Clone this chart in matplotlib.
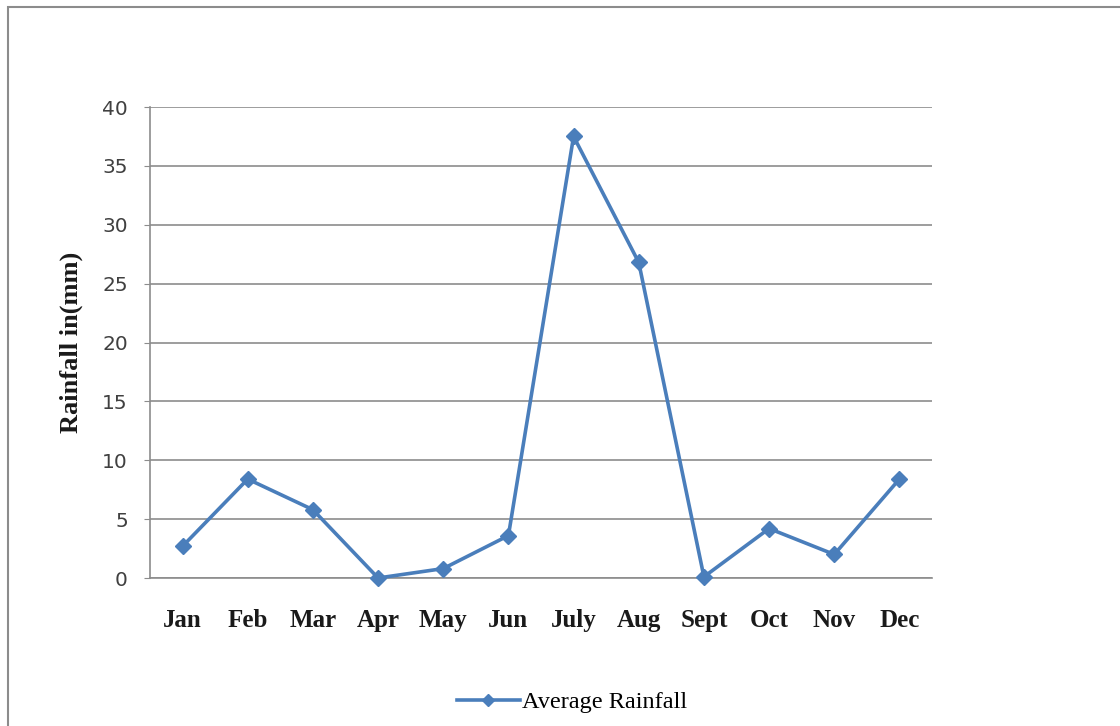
import matplotlib
matplotlib.use("Agg")
import matplotlib.pyplot as plt
from matplotlib.patches import Rectangle
from matplotlib.lines import Line2D

months = ["Jan", "Feb", "Mar", "Apr", "May", "Jun", "July", "Aug", "Sept", "Oct", "Nov", "Dec"]
rainfall = [2.7, 8.4, 5.8, 0.0, 0.8, 3.6, 37.5, 26.8, 0.1, 4.2, 2.0, 8.4]
yticks = [0, 5, 10, 15, 20, 25, 30, 35, 40]
series_name = "Average Rainfall"

W, H = 1120, 726
fig = plt.figure(figsize=(W / 100, H / 100), dpi=100)
fig.patch.set_facecolor("white")

# outer chart border
fig.add_artist(Rectangle((8 / W, -0.01), 1.2, 1 - 7 / H + 0.01, transform=fig.transFigure,
                         fill=False, edgecolor="#8c8c8c", linewidth=1.5))

left, right, top, bottom = 150, 932, 107, 578
ax = fig.add_axes([left / W, 1 - bottom / H, (right - left) / W, (bottom - top) / H])

color = "#4A7EBB"
x = list(range(len(months)))
ax.plot(x, rainfall, color=color, linewidth=2.6, marker="D", markersize=8,
        markerfacecolor=color, markeredgecolor=color, clip_on=False, zorder=3)

ax.set_xlim(-0.5, len(months) - 0.5)
ax.set_ylim(0, 40)
ax.set_yticks(yticks)
ax.set_yticklabels([str(v) for v in yticks], fontsize=14.5, family="DejaVu Sans", color="#404040")
ax.set_xticks(x)
ax.set_xticklabels(months, fontsize=18, family="Liberation Serif", fontweight="bold", color="#1a1a1a")
ax.tick_params(axis="x", length=0, pad=22)
ax.tick_params(axis="y", length=4, color="#8c8c8c", pad=12)

ax.grid(axis="y", color="#8c8c8c", linewidth=1.2)
ax.set_axisbelow(True)
for s in ["top", "right"]:
    ax.spines[s].set_visible(False)
for s in ["left", "bottom"]:
    ax.spines[s].set_color("#8c8c8c")
    ax.spines[s].set_linewidth(1.2)

ax.set_ylabel("Rainfall in(mm)", fontsize=19, family="Liberation Serif", fontweight="bold",
              color="#1a1a1a", labelpad=14)

handle = Line2D([0], [0], color=color, linewidth=2.6, marker="D", markersize=6,
                markerfacecolor=color, markeredgecolor=color)
fig.legend([handle], [series_name], loc="center", bbox_to_anchor=(572 / W, 1 - 702 / H),
           frameon=False, prop={"family": "Liberation Serif", "size": 17.5},
           handlelength=2.6, handletextpad=0.1)

fig.savefig("out.png", dpi=100, facecolor="white")
